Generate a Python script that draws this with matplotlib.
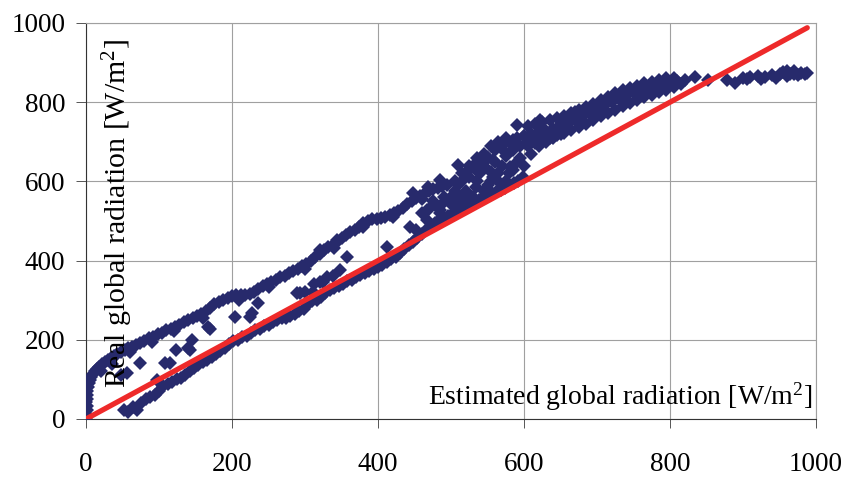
import matplotlib.pyplot as plt
import numpy as np

plt.rcParams['font.family'] = ['Liberation Serif', 'DejaVu Serif']
plt.rcParams['mathtext.fontset'] = 'custom'
plt.rcParams['mathtext.rm'] = 'Liberation Serif'
plt.rcParams['mathtext.default'] = 'regular'

# upper branch (estimated, real) W/m2
est_upper = [0, 0, 1, 1, 0, 2, 1, 2, 3, 4, 5, 7, 9, 12, 15, 18, 22, 26, 30, 34, 38, 43, 48, 53, 58, 63, 68,
             74, 80, 86, 92, 98, 104, 110, 116, 122, 128, 134, 140, 146, 152, 158, 164, 170, 176, 182, 188,
             194, 200, 206, 212, 218, 224, 230, 236, 242, 248, 254, 260, 266, 272, 278, 284, 290, 296, 302,
             308, 314, 320, 326, 332, 338, 344, 350, 356, 362, 368, 374, 380, 386, 392, 398, 404, 410, 416,
             422, 428, 434, 440, 446, 452, 458, 464, 470, 476, 482, 488,
             20, 35, 60, 90, 120, 160, 210, 250, 300, 340, 380, 420, 460]
real_upper = [2, 12, 22, 32, 42, 50, 60, 70, 80, 90, 98, 106, 113, 120, 126, 132, 138, 144, 150, 155, 160, 165,
              170, 175, 179, 183, 188, 193, 198, 204, 208, 214, 218, 224, 228, 232, 238, 244, 250, 254, 260,
              266, 272, 280, 290, 296, 300, 306, 310, 312, 313, 314, 316, 320, 328, 336, 342, 346, 352, 358,
              362, 368, 374, 380, 386, 392, 400, 410, 416, 426, 434, 440, 446, 456, 464, 472, 478, 486, 494,
              500, 504, 506, 508, 510, 514, 520, 526, 534, 542, 550, 558, 564, 570, 576, 580, 584, 588,
              120, 140, 170, 195, 222, 255, 300, 334, 378, 432, 484, 510, 556]

# lower branch
est_lower = [52, 58, 64, 70, 76, 82, 88, 94, 100, 106, 112, 118, 124, 130, 136, 142, 148, 154, 160, 166, 172,
             178, 184, 190, 196, 202, 208, 214, 220, 226, 232, 238, 244, 250, 256, 262, 268, 274, 280, 286,
             292, 298, 304, 310, 316, 322, 328, 334, 340, 346, 352, 358, 364, 370, 376, 382, 388, 394, 400,
             406, 412, 418, 424, 430, 436, 442, 448, 454, 460, 466, 472, 478, 484, 490, 496, 502, 508, 514,
             520, 526, 532, 538, 544, 550, 556, 562, 568, 574, 580, 586, 592, 598]
real_lower = [22, 18, 30, 22, 40, 50, 56, 60, 70, 84, 88, 94, 100, 104, 112, 120, 128, 136, 144, 150, 156,
              164, 172, 180, 190, 196, 200, 206, 210, 216, 224, 228, 234, 238, 244, 250, 254, 256, 260, 266,
              272, 278, 290, 298, 300, 308, 318, 326, 330, 336, 342, 348, 352, 358, 364, 368, 374, 378, 384,
              388, 396, 404, 410, 420, 430, 440, 448, 458, 468, 478, 488, 496, 502, 508, 512, 518, 522, 530,
              536, 540, 546, 554, 560, 564, 570, 574, 578, 584, 590, 596, 602, 610]

# scattered points between the branches
est_mid = [48, 56, 74, 97, 108, 115, 123, 142, 145, 167, 170, 204, 225, 227, 236, 289, 293, 311, 325, 330,
           344, 348, 358, 321, 412, 444, 467, 452, 448, 467, 485, 489, 499, 511, 534, 534, 549, 558, 558,
           571, 581, 585, 468, 485, 510, 590, 622, 670, 140, 300, 312, 338, 320]
real_mid = [112, 116, 141, 98, 141, 141, 174, 174, 199, 232, 228, 258, 258, 268, 293, 318, 318, 321, 346,
            359, 452, 376, 409, 427, 434, 485, 528, 477, 571, 503, 528, 545, 545, 561, 586, 629, 662, 611,
            654, 679, 636, 705, 586, 604, 641, 742, 755, 775, 180, 320, 342, 360, 345]

# dense cloud 460-650
est_cloud = [500, 505, 510, 515, 520, 525, 530, 535, 540, 545, 550, 555, 560, 565, 570, 575, 580, 585, 590,
             595, 600, 605, 610, 615, 620, 625, 630, 635, 640, 645, 650, 520, 530, 540, 550, 560, 570, 580,
             590, 600, 610, 505, 515, 525, 545, 555, 565, 575, 585, 595, 505, 515, 525, 535, 545, 555, 565,
             575, 480, 490, 495, 485, 470, 460, 475]
real_cloud = [560, 575, 590, 600, 575, 610, 560, 600, 620, 640, 590, 625, 650, 600, 640, 665, 620, 680, 650,
              690, 640, 700, 670, 710, 690, 720, 700, 725, 710, 735, 720, 620, 640, 650, 660, 680, 690, 700,
              710, 715, 720, 540, 555, 550, 575, 600, 620, 600, 630, 660, 600, 620, 640, 660, 670, 690, 700,
              710, 540, 560, 590, 520, 530, 520, 550]

# upper band 600-1000
est_high = [600, 610, 620, 630, 640, 650, 660, 670, 680, 690, 700, 710, 720, 730, 740, 750, 760, 770, 780,
            790, 800, 810, 820,
            605, 615, 625, 635, 645, 655, 665, 675, 685, 695, 705, 715, 725, 735, 745, 755, 765, 775, 785,
            795, 805,
            605, 615, 625, 635, 645, 655, 665, 675, 685, 695, 705, 715, 725, 735, 745, 755, 765, 775, 785,
            795, 805, 815,
            834, 852, 878, 889, 900, 910, 920, 930, 940, 950, 955, 960, 965, 970, 975, 980, 985, 988, 945,
            925, 905, 960, 970]
real_high = [715, 720, 724, 728, 733, 740, 747, 755, 762, 772, 781, 790, 800, 808, 816, 822, 828, 834, 840,
             845, 850, 853, 857,
             740, 745, 750, 755, 760, 765, 772, 780, 788, 796, 805, 814, 822, 830, 836, 842, 848, 852, 856,
             860, 862,
             690, 698, 704, 710, 716, 722, 730, 738, 745, 755, 764, 772, 780, 790, 798, 805, 812, 818, 825,
             832, 838, 845,
             864, 856, 856, 848, 862, 864, 866, 864, 868, 870, 876, 866, 872, 870, 868, 874, 870, 874, 860,
             858, 858, 878, 878]

# 1:1 reference line
line_x = [0, 988]
line_y = [0, 988]

ticks = [0, 200, 400, 600, 800, 1000]

est = est_upper + est_lower + est_mid + est_cloud + est_high
real = real_upper + real_lower + real_mid + real_cloud + real_high

fig = plt.figure(figsize=(8.46, 4.79), dpi=100)
ax = fig.add_axes([86/846, 60/479, 730/846, 396/479])

ax.plot(est, real, linestyle='none', marker='D', markersize=7.5, color='#272a6c',
        markeredgewidth=0, zorder=3)
ax.plot(line_x, line_y, color='#ee2a2a', linewidth=3.8, solid_capstyle='round', zorder=4)

ax.set_xlim(0, 1000)
ax.set_ylim(0, 1000)
ax.set_xticks(ticks)
ax.set_yticks(ticks)
ax.grid(True, color='#a0a0a0', linewidth=0.8, zorder=0)
ax.set_axisbelow(True)

for s in ['top', 'right']:
    ax.spines[s].set_color('#a0a0a0')
    ax.spines[s].set_linewidth(0.8)
for s in ['left', 'bottom']:
    ax.spines[s].set_color('#333333')
    ax.spines[s].set_linewidth(0.8)

ax.tick_params(axis='y', direction='out', length=7, width=0.7, pad=8, labelsize=19.5, color='#555555')
ax.tick_params(axis='x', direction='out', length=6.5, width=0.7, pad=17, labelsize=19.5, color='#555555')

ax.text(44, 520, 'Real global radiation [W/m$^{2}$]', rotation=90, ha='center', va='center',
        fontsize=21.5, zorder=6)
ax.text(995, 55, 'Estimated global radiation [W/m$^{2}$]', ha='right', va='center',
        fontsize=20, zorder=6)

plt.savefig('out.png', dpi=100)
